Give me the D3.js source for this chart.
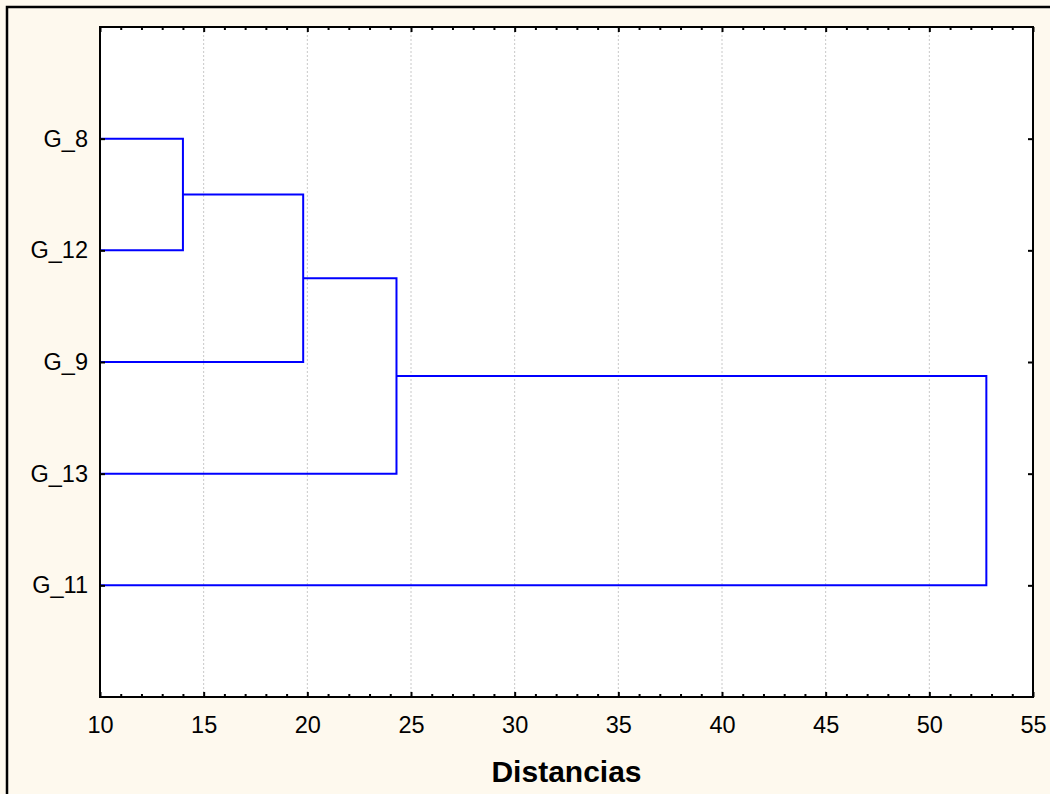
<!DOCTYPE html>
<html>
<head>
<meta charset="utf-8">
<script src="https://cdn.jsdelivr.net/npm/d3@7"></script>
<style>
  html, body { margin: 0; padding: 0; background: #fef9ee; }
  svg { display: block; }
</style>
</head>
<body>
<svg id="chart" width="1050" height="794"></svg>
<script>
// Leaf order (top to bottom) and the agglomeration steps of the tree
const leaves = ["G_8", "G_12", "G_9", "G_13", "G_11"];
const mergeLeft = ["G_8", "C1", "C2", "C3"];
const mergeRight = ["G_12", "G_9", "G_13", "G_11"];
const mergeHeight = [14.0, 19.8, 24.3, 52.75];
const xTicks = [10, 15, 20, 25, 30, 35, 40, 45, 50, 55];
const xDomain = [10, 55];
const axisTitle = "Distancias";

const svg = d3.select("#chart");
const W = 1050, H = 794;
const plot = { left: 100, top: 27, right: 1033, bottom: 697 };

// outer frame
svg.append("rect").attr("x", 7).attr("y", 7).attr("width", W + 20).attr("height", H + 20)
  .attr("fill", "#fef9ee").attr("stroke", "#000").attr("stroke-width", 2.5);

// plot area
svg.append("rect").attr("x", plot.left).attr("y", plot.top)
  .attr("width", plot.right - plot.left).attr("height", plot.bottom - plot.top)
  .attr("fill", "#fff");

const x = d3.scaleLinear().domain(xDomain).range([plot.left, plot.right]);
const y = d3.scalePoint().domain(leaves).range([plot.top, plot.bottom]).padding(1);

// dotted grid at major ticks
svg.append("g").selectAll("line")
  .data(xTicks.filter(t => t > xDomain[0] && t < xDomain[1]))
  .join("line")
  .attr("x1", d => x(d)).attr("x2", d => x(d))
  .attr("y1", plot.top).attr("y2", plot.bottom)
  .attr("stroke", "#c8c8c8").attr("stroke-width", 1).attr("stroke-dasharray", "2,2");

// cluster nodes: position (height, vertical centre)
const nodes = {};
leaves.forEach(l => { nodes[l] = { h: xDomain[0], y: y(l) }; });
const links = [];
mergeHeight.forEach((h, i) => {
  const a = nodes[mergeLeft[i]], b = nodes[mergeRight[i]];
  links.push({ a, b, h });
  nodes["C" + (i + 1)] = { h, y: (a.y + b.y) / 2 };
});

svg.append("g").selectAll("path").data(links).join("path")
  .attr("d", d => {
    const p = d3.path();
    p.moveTo(x(d.a.h), d.a.y);
    p.lineTo(x(d.h), d.a.y);
    p.lineTo(x(d.h), d.b.y);
    p.lineTo(x(d.b.h), d.b.y);
    return p.toString();
  })
  .attr("fill", "none").attr("stroke", "#0000ff").attr("stroke-width", 2);

const fontFamily = "Arial, 'Liberation Sans', sans-serif";
const minorTicks = d3.range(xDomain[0] + 1, xDomain[1]).filter(t => t % 5 !== 0);

function styleAxis(g) {
  g.select(".domain").remove();
  g.selectAll(".tick line").attr("stroke", "#000").attr("stroke-width", 2);
}

// bottom axis (major + minor, ticks pointing inward)
svg.append("g").attr("transform", `translate(0,${plot.bottom})`)
  .call(d3.axisBottom(x).tickValues(xTicks).tickSize(-5).tickPadding(19).tickFormat(d3.format("d")))
  .call(styleAxis)
  .call(g => g.selectAll("text").attr("font-family", fontFamily).attr("font-size", 23.5).attr("fill", "#000"));
svg.append("g").attr("transform", `translate(0,${plot.bottom})`)
  .call(d3.axisBottom(x).tickValues(minorTicks).tickSize(-3).tickFormat(""))
  .call(styleAxis);

// top axis (ticks only)
svg.append("g").attr("transform", `translate(0,${plot.top})`)
  .call(d3.axisTop(x).tickValues(xTicks).tickSize(-5).tickFormat(""))
  .call(styleAxis);
svg.append("g").attr("transform", `translate(0,${plot.top})`)
  .call(d3.axisTop(x).tickValues(minorTicks).tickSize(-3).tickFormat(""))
  .call(styleAxis);

// left axis with leaf labels
svg.append("g").attr("transform", `translate(${plot.left},0)`)
  .call(d3.axisLeft(y).tickSize(-5).tickPadding(12))
  .call(styleAxis)
  .call(g => g.selectAll("text").attr("font-family", fontFamily).attr("font-size", 23.5).attr("fill", "#000"));

// right axis (ticks only)
svg.append("g").attr("transform", `translate(${plot.right},0)`)
  .call(d3.axisRight(y).tickSize(-5).tickFormat(""))
  .call(styleAxis);

// plot border
svg.append("rect").attr("x", plot.left).attr("y", plot.top)
  .attr("width", plot.right - plot.left).attr("height", plot.bottom - plot.top)
  .attr("fill", "none").attr("stroke", "#000").attr("stroke-width", 2);

// axis title
svg.append("text")
  .attr("x", (plot.left + plot.right) / 2).attr("y", 782)
  .attr("text-anchor", "middle")
  .attr("font-family", fontFamily).attr("font-weight", "bold").attr("font-size", 30)
  .text(axisTitle);
</script>
</body>
</html>
